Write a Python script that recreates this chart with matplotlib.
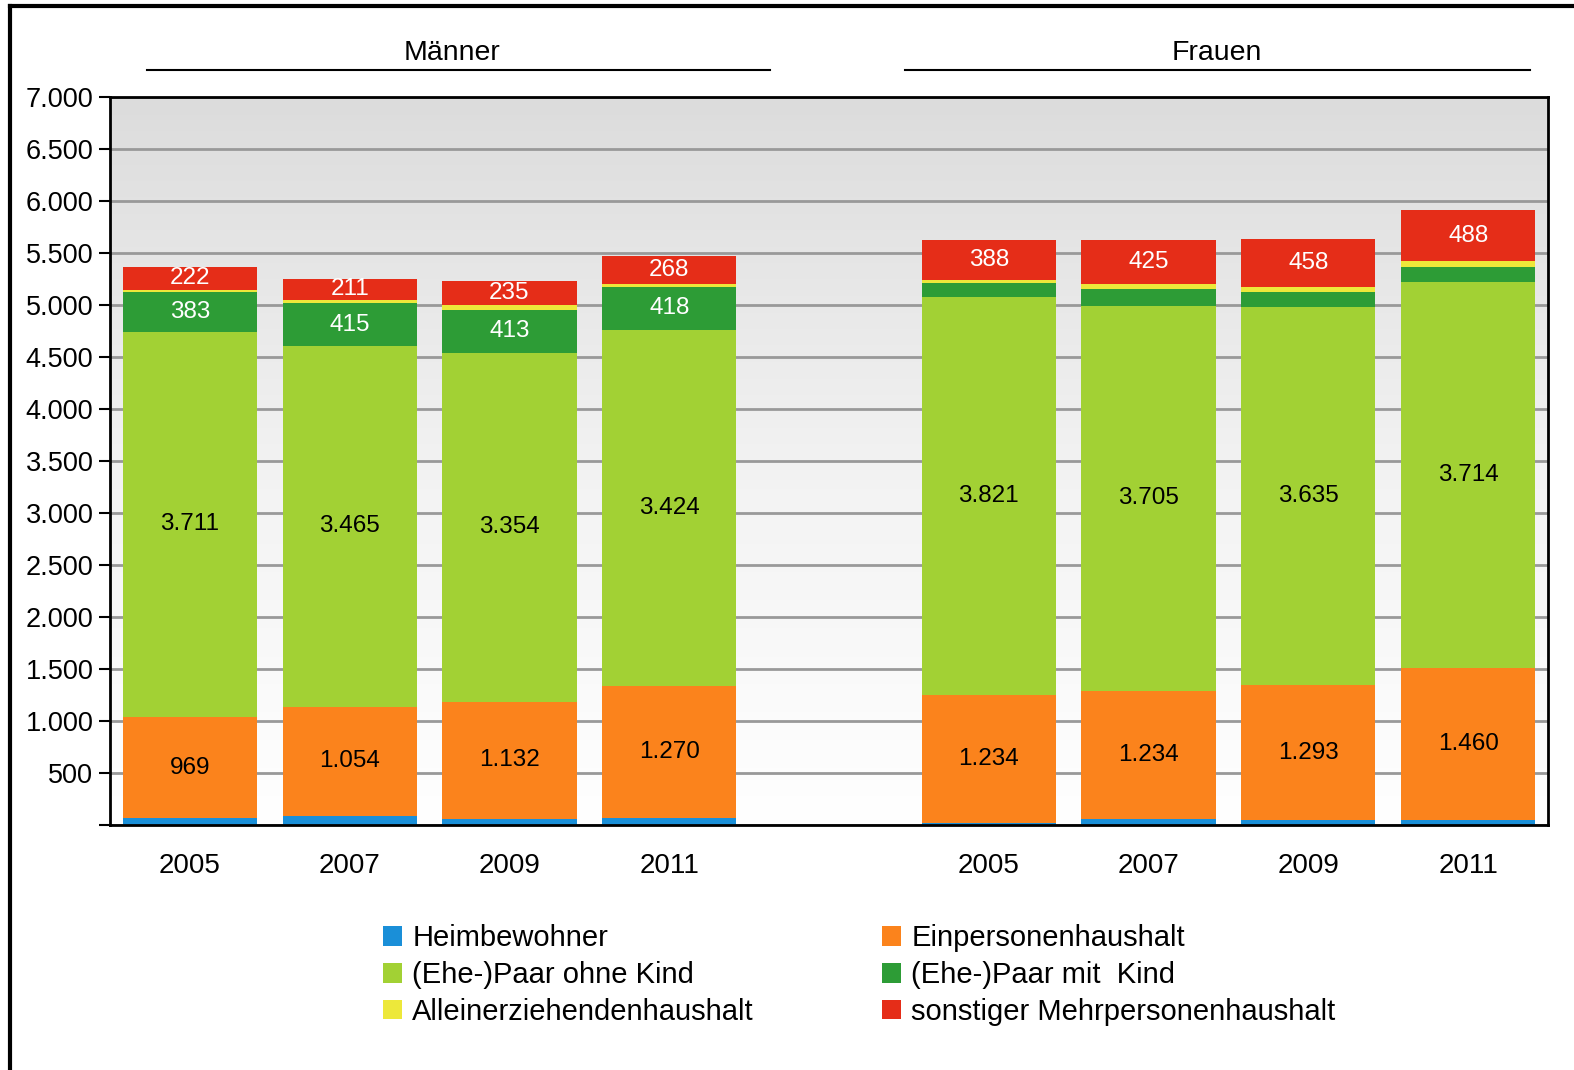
import matplotlib.pyplot as plt
import matplotlib.transforms as mtransforms
from matplotlib.patches import Patch
from matplotlib.colors import LinearSegmentedColormap
from matplotlib.ticker import FuncFormatter
import numpy as np

plt.rcParams['font.family'] = ['Liberation Sans', 'DejaVu Sans']

# Bevölkerung nach Haushaltsform, Männer (4 Jahre) und Frauen (4 Jahre)
years = ['2005', '2007', '2009', '2011']
groups = ['Männer', 'Frauen']
categories = ['Heimbewohner', 'Einpersonenhaushalt', '(Ehe-)Paar ohne Kind',
              '(Ehe-)Paar mit  Kind', 'Alleinerziehendenhaushalt',
              'sonstiger Mehrpersonenhaushalt']
colors = ['#1a8fd8', '#fb831c', '#a2d134', '#2d9c36', '#ede83a', '#e52d18']

heim_m = [65, 85, 55, 65]
heim_f = [20, 55, 50, 50]
einp_m = [969, 1054, 1132, 1270]
einp_f = [1234, 1234, 1293, 1460]
ohne_m = [3711, 3465, 3354, 3424]
ohne_f = [3821, 3705, 3635, 3714]
mit_m = [383, 415, 413, 418]
mit_f = [140, 160, 150, 145]
allein_m = [20, 25, 45, 30]
allein_f = [25, 50, 50, 55]
sonst_m = [222, 211, 235, 268]
sonst_f = [388, 425, 458, 488]

# which segments get a value label, and in which colour
label_m = [None, 'black', 'black', 'white', None, 'white']
label_f = [None, 'black', 'black', None, None, 'white']

series_m = [heim_m, einp_m, ohne_m, mit_m, allein_m, sonst_m]
series_f = [heim_f, einp_f, ohne_f, mit_f, allein_f, sonst_f]

def fmt(v):
    return f'{int(v):,}'.replace(',', '.')

fig = plt.figure(figsize=(15.74, 10.70), dpi=100)
ax = fig.add_axes([0.0699, 0.2290, 0.9136, 0.6803])

# grey -> white background gradient
grad = np.linspace(1, 0, 256).reshape(-1, 1)
bg = LinearSegmentedColormap.from_list('bg', ['#ffffff', '#f2f2f2', '#dcdcdc'])
ax.imshow(grad, extent=[0, 1, 0, 1], transform=ax.transAxes, aspect='auto',
          cmap=bg, zorder=0)

x_m = np.arange(4)
x_f = np.arange(4) + 5
width = 0.84

for xs, series, lab in [(x_m, series_m, label_m), (x_f, series_f, label_f)]:
    bottom = np.zeros(4)
    for vals, col, lc in zip(series, colors, lab):
        vals = np.array(vals, dtype=float)
        ax.bar(xs, vals, width, bottom=bottom, color=col, zorder=3)
        if lc is not None:
            for xi, b, v in zip(xs, bottom, vals):
                ax.text(xi, b + v / 2, fmt(v), ha='center', va='center',
                        color=lc, fontsize=17.5, zorder=4)
        bottom += vals

ax.set_xlim(-0.5, 8.5)
ax.set_ylim(0, 7000)
ax.set_yticks(np.arange(0, 7001, 500))
ax.yaxis.set_major_formatter(FuncFormatter(lambda v, p: '' if v == 0 else fmt(v)))
ax.grid(axis='y', color='#999999', linewidth=2, zorder=1)
ax.set_axisbelow(True)
ax.set_xticks(list(x_m) + list(x_f))
ax.set_xticklabels(years + years)
ax.tick_params(axis='x', length=0, pad=20, labelsize=20)
ax.tick_params(axis='y', length=8, width=1.5, labelsize=19.5, pad=4)
for s in ax.spines.values():
    s.set_linewidth(2)
    s.set_color('black')
    s.set_zorder(5)

# group headers with rule below
trans = mtransforms.blended_transform_factory(ax.transData, fig.transFigure)
for name, x0, x1, xc in [(groups[0], -0.27, 3.63, 1.64), (groups[1], 4.475, 8.39, 6.43)]:
    ax.text(xc, 0.950, name, ha='center', va='center', fontsize=20.5, transform=trans)
    ax.plot([x0, x1], [0.9346, 0.9346], color='black', linewidth=1.5,
            transform=trans, clip_on=False)

# legend in two columns
order = [0, 2, 4, 1, 3, 5]
handles = [Patch(facecolor=colors[i], label=categories[i]) for i in order]
fig.legend(handles=handles, loc='upper left', bbox_to_anchor=(0.236, 0.147),
           ncol=2, frameon=False, fontsize=21, handlelength=0.65,
           handleheight=0.65, handletextpad=0.35, columnspacing=4.4,
           labelspacing=0.3, borderaxespad=0)

# outer frame (top and left only)
fig.add_artist(plt.Line2D([0.0064, 1], [0.9944, 0.9944], color='black', linewidth=3,
                          transform=fig.transFigure))
fig.add_artist(plt.Line2D([0.0064, 0.0064], [0, 0.9944], color='black', linewidth=3,
                          transform=fig.transFigure))

fig.savefig('out.png', dpi=100)
